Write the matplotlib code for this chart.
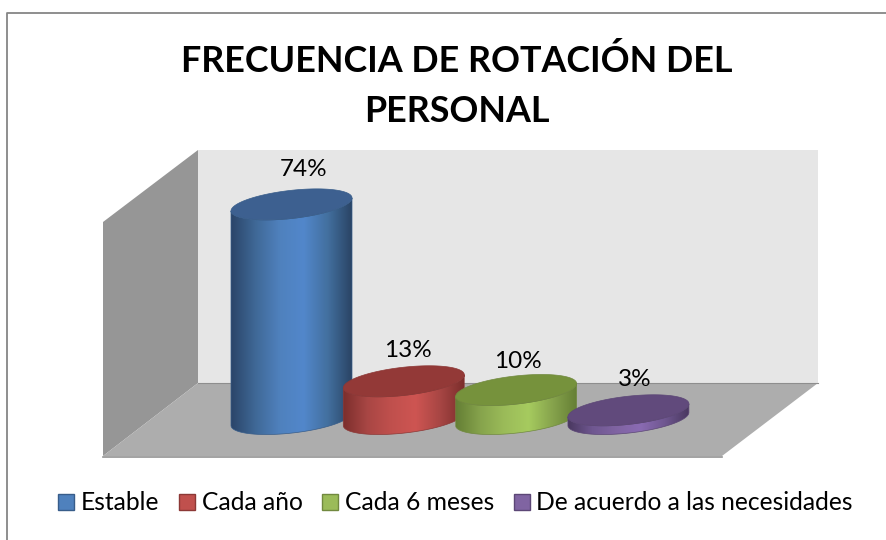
import numpy as np
import matplotlib
matplotlib.use("Agg")
import matplotlib.pyplot as plt
from matplotlib.colors import LinearSegmentedColormap
from matplotlib.patches import Patch, Polygon, PathPatch
from matplotlib.path import Path
from matplotlib.transforms import Affine2D

plt.rcParams['font.family'] = ['Lato', 'DejaVu Sans']

title = "FRECUENCIA DE ROTACIÓN DEL\nPERSONAL"
categories = ["Estable", "Cada año", "Cada 6 meses", "De acuerdo a las necesidades"]
values = [74, 13, 10, 3]
labels = ["74%", "13%", "10%", "3%"]

W, H = 886, 540
PX_X = 112.3     # pixels per category step
PX_Y = 2.9       # pixels per percentage point
X0, Y0 = 291.5, 419
RX = 60.5 / PX_X
TILT, RY = 6.5 / PX_Y, 14.1 / PX_Y

label_dx = [12.5, 4, 1.5, 6.5]
label_dy = [35, 31, 29, 31]

face = ["#4f81bd", "#c0504d", "#9bbb59", "#8064a2"]
edge = ["#385d8a", "#8c3836", "#71893f", "#5c4776"]
top = ["#3d6090", "#933937", "#76923c", "#614a7c"]
ramps = [
    ["#2b4569", "#3f6896", "#4f81bd", "#5287cb", "#43709f", "#2a4465"],
    ["#7c2e2c", "#a84644", "#c0504d", "#ce5552", "#a84644", "#7c2e2c"],
    ["#657f35", "#86a34c", "#9bbb59", "#a6cb5f", "#86a34c", "#657f35"],
    ["#4a3860", "#6f5790", "#8064a2", "#8a6bb3", "#6f5790", "#4a3860"],
]

fig = plt.figure(figsize=(W / 100, H / 100), dpi=100, facecolor="white")
ax = fig.add_axes([0, 0, 1, 1])
ax.axis("off")
xlim = (-X0 / PX_X, (W - X0) / PX_X)
ylim = (-(H - Y0) / PX_Y, Y0 / PX_Y)
px = Affine2D().scale(1 / W, -1 / H).translate(0, 1) + ax.transAxes

# chart frame
ax.plot([7.5, 7.5, W], [H, 12.5, 12.5], transform=px, color="#868686", lw=1.3, zorder=1)

# 3-D box
ax.add_patch(Polygon([(198, 150), (818, 150), (818, 383), (198, 383)], transform=px, fc="#e6e6e6", ec="none", zorder=1))
ax.add_patch(Polygon([(103, 222), (198, 150), (198, 383), (103, 456)], transform=px, fc="#969696", ec="none", zorder=1))
ax.add_patch(Polygon([(103, 456), (198, 383), (818, 383), (722, 456)], transform=px, fc="#adadad", ec="none", zorder=1))
ax.plot([198, 818], [383, 383], transform=px, color="#8e8e8e", lw=0.8, zorder=2)
ax.plot([103, 722], [456.5, 456.5], transform=px, color="#929292", lw=1.2, zorder=2)

t = np.linspace(0, 2 * np.pi, 200)
ex, ey = RX * np.cos(t), TILT * np.cos(t) + RY * np.sin(t)
# lower arc of the ellipse, from its left extreme to its right extreme
tl = np.linspace(np.pi, 2 * np.pi, 100)
lx, ly = RX * np.cos(tl), TILT * np.cos(tl) + RY * np.sin(tl)

for i, v in enumerate(values):
    z = 3 + i
    side = np.vstack([np.c_[i + lx, ly], np.c_[i + lx[::-1], v + ly[::-1]]])
    path = Path(np.vstack([side, side[0]]), closed=True)
    cmap = LinearSegmentedColormap.from_list(f"c{i}", ramps[i])
    im = ax.imshow(np.linspace(0, 1, 256)[None, :], cmap=cmap, aspect="auto", zorder=z,
                   extent=(i - RX, i + RX, -10, v + 10), interpolation="bilinear")
    clip = PathPatch(path, transform=ax.transData, fc="none", ec="none")
    ax.add_patch(clip)
    im.set_clip_path(clip)
    ax.add_patch(PathPatch(path, fc="none", ec=edge[i], lw=0.5, zorder=z))
    ax.add_patch(Polygon(np.c_[i + ex, v + ey], closed=True, fc=top[i], ec=edge[i], lw=0.5, zorder=z + 0.1))
    ax.annotate(labels[i], (i, v), xytext=(label_dx[i], label_dy[i]), textcoords="offset pixels",
                ha="center", va="center", fontsize=17.5, color="black", zorder=10)

ax.set_xlim(xlim)
ax.set_ylim(ylim)

ax.text(457, 86, title, transform=px, ha="center", va="center", fontsize=25.8,
        fontweight="bold", color="black", linespacing=1.65)

handles = [Patch(fc=f, ec=e, lw=1) for f, e in zip(face, edge)]
ax.legend(handles, categories, loc="center", bbox_to_anchor=(455.5 / W, 1 - 503 / H),
          ncol=4, frameon=False, fontsize=17.7, handlelength=0.65, handleheight=0.65,
          handletextpad=0.28, columnspacing=0.79, borderpad=0, borderaxespad=0)

fig.savefig("out.png", dpi=100)
